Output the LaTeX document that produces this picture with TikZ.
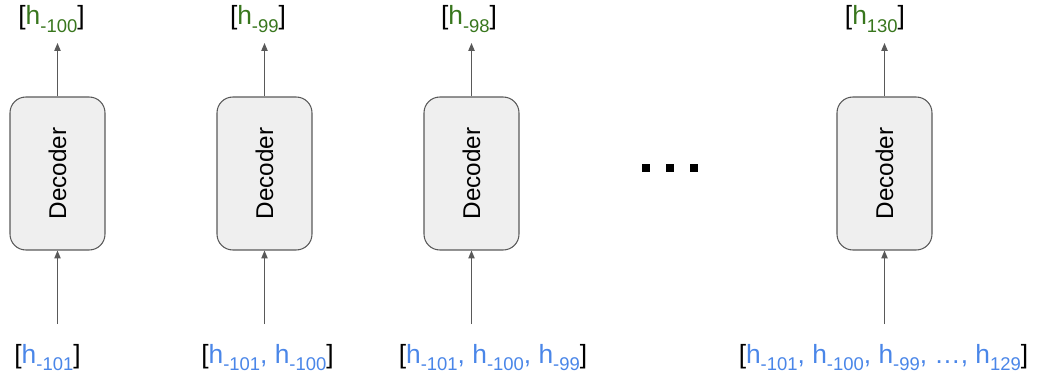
\documentclass[tikz,border=0pt]{standalone}
\usepackage{fontspec}
\setmainfont{Liberation Sans}
\usepackage{tikz}
\usetikzlibrary{calc, shapes, arrows, arrows.meta}
\definecolor{outgreen}{HTML}{38761D}
\definecolor{inblue}{HTML}{4A86E8}
\definecolor{boxgray}{HTML}{EFEFEF}
\definecolor{linegray}{HTML}{595959}
\newcommand{\hsub}[2]{\textcolor{#1}{h\raisebox{-4.5pt}{\fontsize{10.5}{12}\selectfont #2}}}
\newcommand{\hin}[1]{\hsub{inblue}{#1}}
\newcommand{\hout}[1]{\hsub{outgreen}{#1}}
\newcommand{\cm}{\textcolor{inblue}{,} }

\begin{document}
\begin{tikzpicture}[x=0.02cm,y=0.02cm]
\tikzstyle{decoder}=[draw=linegray,fill=boxgray,rounded corners=9pt,line width=0.6pt,minimum width=1.9cm,minimum height=3.06cm,font=\fontsize{13.8}{16}\selectfont]
\tikzstyle{vec}=[inner sep=0pt,anchor=base,font=\fontsize{15}{18}\selectfont]
\tikzstyle{arr}=[draw=linegray,line width=0.6pt,-{Triangle[length=4.5pt,width=3.6pt]}]
\tikzstyle{dot}=[fill=black,minimum size=0.16cm,inner sep=0pt]
\useasboundingbox (0,0) rectangle (1038,383);
% decoders
\node[decoder] (D_1) at (57.5,209.5) {\rotatebox{90}{Decoder}};
\node[decoder] (D_2) at (264.5,209.5) {\rotatebox{90}{Decoder}};
\node[decoder] (D_3) at (471.5,209.5) {\rotatebox{90}{Decoder}};
\node[decoder] (D_4) at (884.5,209.5) {\rotatebox{90}{Decoder}};
% outputs
\node[vec] (Y_1) at (51.5,358) {[\hout{-100}]};
\node[vec] (Y_2) at (258,358) {[\hout{-99}]};
\node[vec] (Y_3) at (469,358) {[\hout{-98}]};
\node[vec] (Y_4) at (875,358) {[\hout{130}]};
% inputs
\node[vec] (X_1) at (47.5,20) {[\hin{-101}]};
\node[vec] (X_2) at (267.5,20) {[\hin{-101}\cm\hin{-100}]};
\node[vec] (X_3) at (493,20) {[\hin{-101}\cm\hin{-100}\cm\hin{-99}]};
\node[vec] (X_4) at (883.5,20) {[\hin{-101}\cm\hin{-100}\cm\hin{-99}\cm\textcolor{inblue}{\ldots}\cm\hin{129}]};
% arrow ends
\coordinate (t_1) at (57.5,340);
\coordinate (t_2) at (264.5,340);
\coordinate (t_3) at (471.5,340);
\coordinate (t_4) at (884.5,340);
\coordinate (b_1) at (57.5,59);
\coordinate (b_2) at (264.5,59);
\coordinate (b_3) at (471.5,59);
\coordinate (b_4) at (884.5,59);
\draw[arr] (D_1.north) -- (t_1);
\draw[arr] (D_2.north) -- (t_2);
\draw[arr] (D_3.north) -- (t_3);
\draw[arr] (D_4.north) -- (t_4);
\draw[arr] (b_1) -- (D_1.south);
\draw[arr] (b_2) -- (D_2.south);
\draw[arr] (b_3) -- (D_3.south);
\draw[arr] (b_4) -- (D_4.south);
% dots
\node[dot] (p_1) at (646,215) {};
\node[dot] (p_2) at (670,215) {};
\node[dot] (p_3) at (694,215) {};
\end{tikzpicture}
\end{document}
